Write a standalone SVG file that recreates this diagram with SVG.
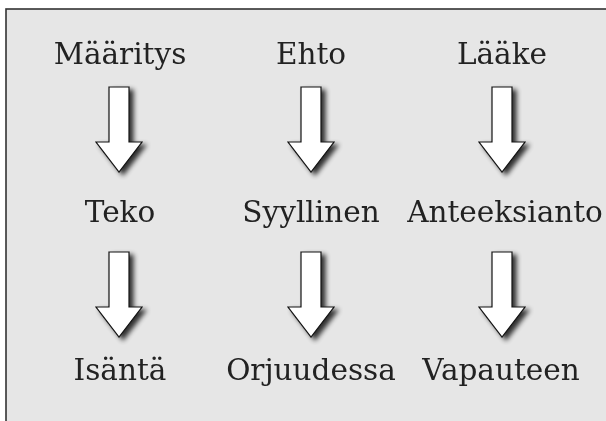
<svg xmlns="http://www.w3.org/2000/svg" width="606" height="421" viewBox="0 0 606 421">
<defs>
<filter id="sh" x="-40%" y="-20%" width="180%" height="150%">
<feGaussianBlur in="SourceAlpha" stdDeviation="2.5"/>
<feOffset dx="4" dy="3" result="b"/>
<feComponentTransfer><feFuncA type="linear" slope="0.8"/></feComponentTransfer>
<feMerge><feMergeNode/><feMergeNode in="SourceGraphic"/></feMerge>
</filter>
<path id="arr" d="M-10,0 H10 V55 H23 L0,85 L-23,55 H-10 Z"/>
</defs>
<style>
.t{font-family:"DejaVu Serif","Liberation Serif",serif;font-size:29.5px;fill:#222;text-anchor:middle}
.a{fill:#fff;stroke:#111;stroke-width:1.2;stroke-linejoin:miter}
</style>
<rect x="0" y="0" width="606" height="421" fill="#fff"/>
<rect x="6" y="9" width="620" height="430" fill="#e6e6e6" stroke="#333" stroke-width="1.6"/>
<g id="connectors" filter="url(#sh)">
<use href="#arr" class="a" x="119" y="87"/>
<use href="#arr" class="a" x="311" y="87"/>
<use href="#arr" class="a" x="502" y="87"/>
<use href="#arr" class="a" x="119" y="252"/>
<use href="#arr" class="a" x="311" y="252"/>
<use href="#arr" class="a" x="502" y="252"/>
</g>
<g id="maaritys"><text class="t" x="120" y="64">Määritys</text></g>
<g id="ehto"><text class="t" x="311" y="64">Ehto</text></g>
<g id="laake"><text class="t" x="502" y="64">Lääke</text></g>
<g id="teko"><text class="t" x="120" y="222">Teko</text></g>
<g id="syyllinen"><text class="t" x="311" y="222">Syyllinen</text></g>
<g id="anteeksianto"><text class="t" x="505" y="222">Anteeksianto</text></g>
<g id="isanta"><text class="t" x="120" y="380">Isäntä</text></g>
<g id="orjuudessa"><text class="t" x="311" y="380">Orjuudessa</text></g>
<g id="vapauteen"><text class="t" x="501" y="380">Vapauteen</text></g>
</svg>
